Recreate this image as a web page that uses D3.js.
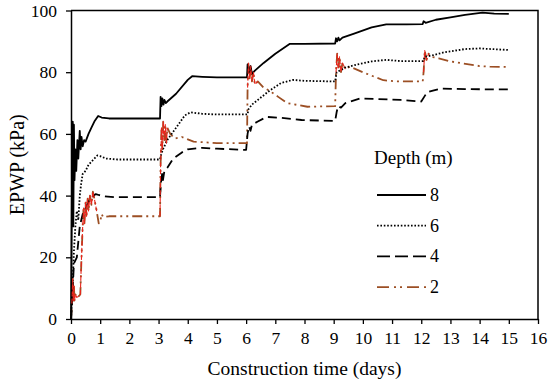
<!DOCTYPE html>
<html>
<head>
<meta charset="utf-8">
<script src="https://cdn.jsdelivr.net/npm/d3@7"></script>
<style>
    body { margin: 0; background: #fff; }
</style>
</head>
<body>
<svg id="chart" width="550" height="383"></svg>
<script>
const FONT = "'Liberation Serif', 'Times New Roman', 'DejaVu Serif', serif";

// depth labels (m)
const depths = ["8", "6", "4", "2"];

// time (days) / EPWP (kPa) for every depth
const t8 = [0, 0.03, 0.06, 0.08, 0.1, 0.12, 0.15, 0.18, 0.22, 0.25, 0.3, 0.33, 0.36, 0.4, 0.45, 0.5, 0.6, 0.7, 0.8, 0.93, 1.05, 1.3, 2, 3.03,
    3.05, 3.07, 3.1, 3.13, 3.17, 3.2, 3.25, 3.3, 3.6, 4.0, 4.15, 4.5, 5, 6.03,
    6.05, 6.1, 6.15, 6.2, 6.3, 6.6, 7.0, 7.5, 8, 9.05,
    9.08, 9.12, 9.16, 9.2, 9.3, 9.7, 10.3, 10.8, 11.5, 12.05,
    12.08, 12.15, 12.5, 13, 13.5, 14.1, 14.5, 15];
const v8 = [0, 40, 64, 30, 63, 45, 55, 48, 58, 52, 61, 55, 59, 56, 58, 57.5, 60, 62, 64, 65.8, 65.3, 65, 65, 65,
    65, 72, 69, 71.5, 69.5, 71, 70, 70.5, 73, 77.5, 78.7, 78.5, 78.3, 78.3,
    82.5, 80, 82, 79.5, 80.5, 83, 86, 89.2, 89.2, 89.3,
    91, 90, 91.2, 90.3, 91.2, 92.5, 94.5, 95.5, 95.5, 95.6,
    96.5, 96, 97, 97.8, 98.6, 99.3, 99, 98.9];

const t6 = [0, 0.05, 0.1, 0.15, 0.2, 0.25, 0.3, 0.35, 0.4, 0.5, 0.6, 0.75, 0.9, 1.0, 1.2, 1.6, 3.05,
    3.08, 3.15, 3.3, 3.6, 3.9, 4.1, 4.5, 5.0, 6.05,
    6.08, 6.2, 6.4, 6.8, 7.2, 7.6, 8.0, 9.05,
    9.1, 9.2, 9.4, 9.8, 10.3, 10.8, 11.3, 12.07,
    12.12, 12.4, 12.8, 13.5, 14, 15];
const v6 = [0, 10, 22, 30, 35, 32, 40, 44, 47, 48, 50, 51.5, 53, 52.8, 52, 51.7, 51.7,
    53, 55, 58, 62, 66, 67, 66.5, 66.3, 66.3,
    68, 69.5, 71, 74, 76.5, 77.5, 77.2, 77,
    80, 80.5, 81.5, 82.5, 83.5, 84, 83.6, 83.6,
    85, 85.5, 86.5, 87.5, 87.7, 87.2];

const t4 = [0, 0.05, 0.1, 0.15, 0.2, 0.25, 0.3, 0.4, 0.5, 0.6, 0.7, 0.85, 0.95, 1.1, 1.5, 3.05,
    3.08, 3.12, 3.15, 3.2, 3.3, 3.5, 3.8, 4.0, 4.5, 5.0, 6.0,
    6.05, 6.1, 6.15, 6.2, 6.4, 6.7, 7.2, 7.9, 9.05,
    9.1, 9.15, 9.25, 9.4, 9.9, 10.5, 11.3, 12.0,
    12.1, 12.2, 12.4, 12.7, 13.5, 15];
const v4 = [0, 8, 18, 19, 20, 25, 30, 34, 36, 38, 39.5, 40.5, 40.2, 39.8, 39.5, 39.5,
    44, 47, 45, 48, 49, 52, 54, 55, 55.5, 55.2, 54.8,
    60, 62.5, 61, 63, 64, 65.5, 65.2, 64.5, 64.2,
    67, 69, 68.5, 70, 71.5, 71.3, 71, 70.5,
    72, 73.5, 74, 74.7, 74.5, 74.4];

const t2 = [0, 0.03, 0.06, 0.08, 0.1, 0.12, 0.15, 0.2, 0.28, 0.32, 0.36, 0.4, 0.43, 0.46, 0.5, 0.53, 0.57, 0.6, 0.65, 0.7, 0.75, 0.8, 0.88, 0.95, 1.0, 1.05, 1.1, 1.3, 3.05,
    3.07, 3.1, 3.13, 3.16, 3.2, 3.23, 3.27, 3.3, 3.4, 3.55, 3.8, 4.2, 5, 6.03,
    6.05, 6.08, 6.12, 6.16, 6.2, 6.25, 6.3, 6.4, 6.6, 6.8, 7.1, 7.4, 8.1, 9.05,
    9.08, 9.12, 9.16, 9.2, 9.25, 9.3, 9.4, 9.55, 10, 10.4, 10.7, 11.15, 12.05,
    12.08, 12.12, 12.18, 12.25, 12.35, 12.6, 13, 13.45, 14, 14.35, 15];
const v2 = [0, 5, 13, 6, 11, 6, 8, 7, 7.5, 8, 20, 30, 36, 31, 38, 33, 39, 35, 40, 37, 41.3, 39, 35, 31, 31.5, 34, 33, 33.3, 33.3,
    50, 62, 55, 64, 58, 63, 57, 62, 60, 58.5, 59, 57.5, 57, 57,
    75, 83, 78, 82, 77, 80, 76, 77, 75, 74, 72, 70, 68.8, 69,
    80, 86, 81, 85, 80, 83, 81, 81.8, 80, 78.5, 77.4, 77, 77,
    80, 87, 84, 86, 85, 84.5, 83.5, 82.8, 82, 81.8, 81.7];

// windows (days) where the 2 m record shows red transient spikes
const redWindows = [[0.02, 0.9], [3.05, 3.35], [6.04, 6.4], [9.07, 9.4], [12.07, 12.3]];

const xTicks = d3.range(0, 17, 1);
const yTicks = [0, 20, 40, 60, 80, 100];

const margin = {top: 10.5, right: 12, bottom: 64, left: 71};
const width = 550, height = 383;

let svg = d3.select("#chart");
let x = d3.scaleLinear().domain([0, 16]).range([margin.left, width - margin.right]);
let y = d3.scaleLinear().domain([0, 100]).range([height - margin.bottom, margin.top]);

function pairs(ts, vs){
    return ts.map((t, i) => [t, vs[i]]);
}

const styles = {
    "8": {color: "#000", dash: null, w: 1.8},
    "6": {color: "#000", dash: "1.6,1.8", w: 1.8},
    "4": {color: "#000", dash: "9,5", w: 1.8},
    "2": {color: "#9c4f24", dash: "10,4,2,4,2,4", w: 1.8}
};

const seriesData = {
    "8": pairs(t8, v8),
    "6": pairs(t6, v6),
    "4": pairs(t4, v4),
    "2": pairs(t2, v2)
};

let line = d3.line().x(d => x(d[0])).y(d => y(d[1]));

// axes
svg.append("g")
    .attr("transform", `translate(0,${y(0)})`)
    .call(d3.axisBottom(x).tickValues(xTicks).tickSize(5).tickSizeOuter(0).tickFormat(d3.format("d")))
    .call(g => {
        g.attr("font-family", FONT);
        g.select(".domain").attr("stroke-width", 1.5);
        g.selectAll(".tick line").attr("stroke-width", 1.3);
        g.selectAll("text").attr("font-size", 17.5).attr("dy", "0.95em");
    });

svg.append("g")
    .attr("transform", `translate(${x(0)},0)`)
    .call(d3.axisLeft(y).tickValues(yTicks).tickSize(5).tickSizeOuter(0))
    .call(g => {
        g.attr("font-family", FONT);
        g.select(".domain").attr("stroke-width", 1.5);
        g.selectAll(".tick line").attr("stroke-width", 1.3);
        g.selectAll("text").attr("font-size", 17.5).attr("x", -14);
    });

// top and right border of the frame
svg.append("path")
    .attr("d", `M${x(0)},${y(100)}H${x(16)}V${y(0)}`)
    .attr("fill", "none")
    .attr("stroke", "#000")
    .attr("stroke-width", 1.5);

// series lines
let plot = svg.append("g");
["2", "4", "6", "8"].forEach(k => {
    plot.append("path")
        .datum(seriesData[k])
        .attr("d", line)
        .attr("fill", "none")
        .attr("stroke", styles[k].color)
        .attr("stroke-width", styles[k].w)
        .attr("stroke-dasharray", styles[k].dash)
        .attr("stroke-linejoin", "round");
});

// red transient spikes of the 2 m record
redWindows.forEach(w => {
    let seg = seriesData["2"].filter(d => d[0] >= w[0] && d[0] <= w[1]);
    plot.append("path")
        .datum(seg)
        .attr("d", line)
        .attr("fill", "none")
        .attr("stroke", "#e8251c")
        .attr("stroke-width", 1.1)
        .attr("stroke-dasharray", "5,2")
        .attr("stroke-linejoin", "round");
});

// axis titles
svg.append("text")
    .attr("x", (x(0) + x(16)) / 2)
    .attr("y", 375)
    .attr("text-anchor", "middle")
    .attr("font-family", FONT)
    .attr("font-size", 19.5)
    .text("Construction time (days)");

svg.append("text")
    .attr("transform", `translate(24,${(y(0) + y(100)) / 2}) rotate(-90)`)
    .attr("text-anchor", "middle")
    .attr("font-family", FONT)
    .attr("font-size", 20)
    .text("EPWP (kPa)");

// legend
let legend = svg.append("g").attr("font-family", FONT);
legend.append("text")
    .attr("x", 374)
    .attr("y", 164)
    .attr("font-size", 19)
    .text("Depth (m)");

depths.forEach((k, i) => {
    let ly = 195 + i * 30.7;
    legend.append("line")
        .attr("x1", 377).attr("x2", 426)
        .attr("y1", ly).attr("y2", ly)
        .attr("stroke", styles[k].color)
        .attr("stroke-width", styles[k].w)
        .attr("stroke-dasharray", k === "4" ? "13,5" : (k === "2" ? "12,5,2,4,2,5" : styles[k].dash));
    legend.append("text")
        .attr("x", 430)
        .attr("y", ly + 6)
        .attr("font-size", 18)
        .text(k);
});
</script>
</body>
</html>
